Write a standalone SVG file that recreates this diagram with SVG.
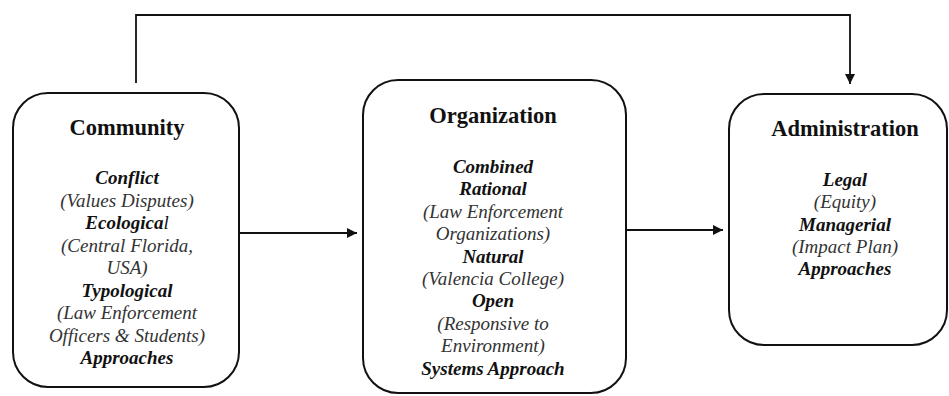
<svg xmlns="http://www.w3.org/2000/svg" width="949" height="396" viewBox="0 0 949 396">
<defs>
<style>
.box{fill:#fff;stroke:#111;stroke-width:2}
text{font-family:"Liberation Serif","Times New Roman","DejaVu Serif",serif;text-anchor:middle}
.title{font-weight:bold;font-size:22.5px;fill:#111}
.bi{font-weight:bold;font-style:italic;font-size:19px;fill:#111}
.it{font-style:italic;font-size:19px;fill:#333}
.conn{fill:none;stroke:#111;stroke-width:1.8}
</style>
<marker id="arr" viewBox="0 0 10 10" refX="10" refY="5" markerWidth="10" markerHeight="10" markerUnits="userSpaceOnUse" orient="auto">
<path d="M0,0 L10,5 L0,10 Z" fill="#111"/>
</marker>
</defs>
<rect width="949" height="396" fill="#fff"/>
<g id="connectors">
<path class="conn" d="M136,83 V15 H850 V84" marker-end="url(#arr)"/>
<path class="conn" d="M240,233 H357" marker-end="url(#arr)"/>
<path class="conn" d="M626,230 H723" marker-end="url(#arr)"/>
</g>
<g id="community">
<rect class="box" x="13" y="93" width="226" height="294" rx="35" ry="35"/>
<text class="title" x="127" y="135">Community</text>
<text class="bi" x="127" y="184">Conflict</text>
<text class="it" x="127" y="206.5">(Values Disputes)</text>
<text class="bi" x="127" y="229">Ecologica<tspan font-weight="normal">l</tspan></text>
<text class="it" x="127" y="251.5">(Central Florida,</text>
<text class="it" x="127" y="274">USA)</text>
<text class="bi" x="127" y="296.5">Typological</text>
<text class="it" x="127" y="319">(Law Enforcement</text>
<text class="it" x="127" y="341.5">Officers &amp; Students)</text>
<text class="bi" x="127" y="364">Approaches</text>
</g>
<g id="organization">
<rect class="box" x="363" y="80" width="263" height="313" rx="35" ry="35"/>
<text class="title" x="493" y="123">Organization</text>
<text class="bi" x="493" y="173">Combined</text>
<text class="bi" x="493" y="195.4">Rational</text>
<text class="it" x="493" y="217.8">(Law Enforcement</text>
<text class="it" x="493" y="240.2">Organizations)</text>
<text class="bi" x="493" y="262.6">Natural</text>
<text class="it" x="493" y="285">(Valencia College)</text>
<text class="bi" x="493" y="307.4">Open</text>
<text class="it" x="493" y="329.8">(Responsive to</text>
<text class="it" x="493" y="352.2">Environment)</text>
<text class="bi" x="493" y="374.6">Systems Approach</text>
</g>
<g id="administration">
<rect class="box" x="729" y="94" width="218" height="251" rx="35" ry="35"/>
<text class="title" x="845" y="136">Administration</text>
<text class="bi" x="845" y="186">Legal</text>
<text class="it" x="845" y="208.2">(Equity)</text>
<text class="bi" x="845" y="230.5">Managerial</text>
<text class="it" x="845" y="252.7">(Impact Plan)</text>
<text class="bi" x="845" y="275">Approaches</text>
</g>
</svg>
